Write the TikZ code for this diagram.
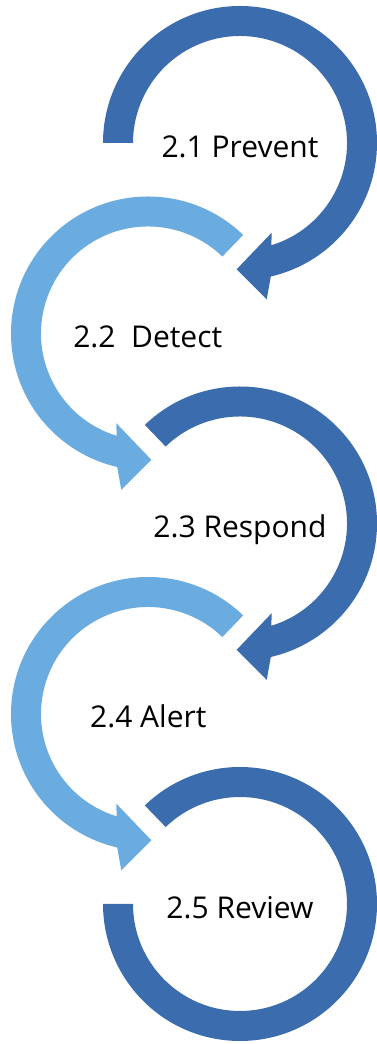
\documentclass[tikz,border=0pt]{standalone}
\usepackage{fontspec}
\setmainfont{Open Sans}
\definecolor{darkring}{RGB}{59,108,173}
\definecolor{lightring}{RGB}{107,172,224}
\tikzset{
  lbl/.style={anchor=base, inner sep=0pt, font=\fontsize{30}{36}\selectfont, text=black},
}
\begin{document}
\begin{tikzpicture}[x=1pt,y=1pt]
\useasboundingbox (0,0) rectangle (376,1044);
% ring 1 (dark, starts at left, arrow head at bottom)
\begin{scope}[shift={(240,901)}]
  \fill[darkring] (180:137) arc[start angle=180,end angle=-77,radius=137]
    -- (-80.3:158.6) -- (-91.5:126.3) -- (-70.5:95.1) -- (-73:107)
    arc[start angle=-73,end angle=180,radius=107] -- cycle;
\end{scope}
% ring 2 (light, mirrored)
\begin{scope}[shift={(148,710.5)},xscale=-1]
  \fill[lightring] (134:137) arc[start angle=134,end angle=-77,radius=137]
    -- (-80.3:158.6) -- (-91.5:126.3) -- (-70.5:95.1) -- (-73:107)
    arc[start angle=-73,end angle=134,radius=107] -- cycle;
\end{scope}
% ring 3 (dark)
\begin{scope}[shift={(240,520.5)}]
  \fill[darkring] (134:137) arc[start angle=134,end angle=-77,radius=137]
    -- (-80.3:158.6) -- (-91.5:126.3) -- (-70.5:95.1) -- (-73:107)
    arc[start angle=-73,end angle=134,radius=107] -- cycle;
\end{scope}
% ring 4 (light, mirrored)
\begin{scope}[shift={(148,330)},xscale=-1]
  \fill[lightring] (134:137) arc[start angle=134,end angle=-77,radius=137]
    -- (-80.3:158.6) -- (-91.5:126.3) -- (-70.5:95.1) -- (-73:107)
    arc[start angle=-73,end angle=134,radius=107] -- cycle;
\end{scope}
% ring 5 (dark, no head)
\begin{scope}[shift={(240,140)}]
  \fill[darkring] (134:137) arc[start angle=134,end angle=-180,radius=137]
    -- (180:107) arc[start angle=-180,end angle=134,radius=107] -- cycle;
\end{scope}
% labels
\node[lbl] (t1) at (240,886.7) {2.1 Prevent};
\node[lbl] (t2) at (147.7,696.3) {2.2\ \ Detect};
\node[lbl] (t3) at (240,506.3) {2.3 Respond};
\node[lbl] (t4) at (148.3,316.3) {2.4 Alert};
\node[lbl] (t5) at (240,125.7) {2.5 Review};
\end{tikzpicture}
\end{document}
